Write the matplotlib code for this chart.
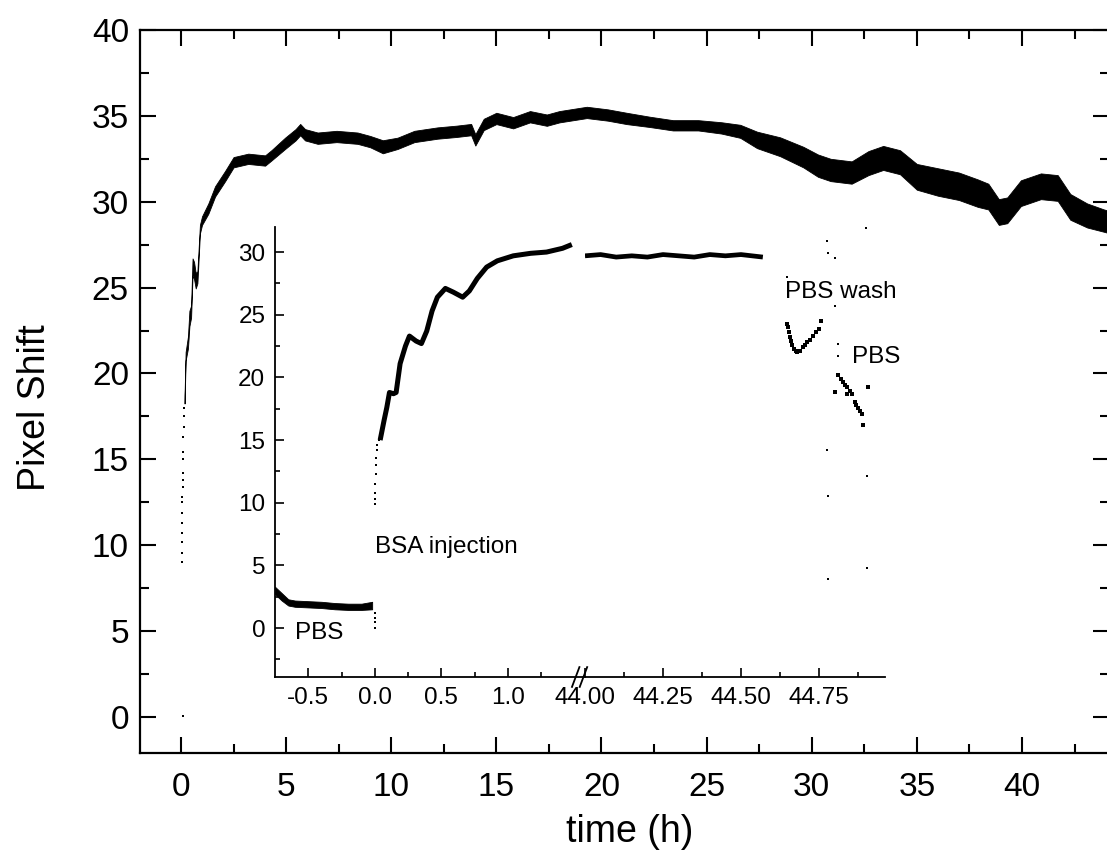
import matplotlib
matplotlib.use("Agg")
import matplotlib.pyplot as plt
from matplotlib.ticker import MultipleLocator, FixedLocator, FormatStrFormatter

plt.rcParams['font.family'] = ['Liberation Sans', 'DejaVu Sans']

# main trace: centre of the noisy band, and its half width (pixel shift)
main_t = [0.17, 0.22, 0.33, 0.40, 0.48, 0.55, 0.62, 0.70, 0.78, 0.90, 1.00, 1.30, 1.62,
          2.10, 2.50, 3.20, 4.00, 4.30, 4.95, 5.45, 5.67, 5.90, 6.50, 7.40, 8.40, 9.00,
          9.60, 10.30, 11.10, 12.20, 13.10, 13.80, 14.00, 14.40, 15.00, 15.80, 16.60,
          17.40, 18.00, 19.30, 20.30, 21.20, 22.30, 23.40, 24.60, 25.70, 26.60, 27.40,
          28.50, 29.60, 30.30, 30.90, 31.90, 32.70, 33.40, 34.20, 35.00, 36.00, 37.00,
          37.90, 38.40, 38.90, 39.30, 39.95, 40.90, 41.70, 42.30, 43.10, 43.90, 44.20]
main_y = [18.5, 21.0, 21.8, 23.2, 23.6, 26.2, 26.0, 25.4, 25.6, 28.4, 28.9, 29.6, 30.6,
          31.5, 32.3, 32.5, 32.4, 32.7, 33.4, 33.9, 34.2, 33.9, 33.7, 33.8, 33.7, 33.5,
          33.2, 33.4, 33.8, 34.0, 34.1, 34.2, 33.6, 34.5, 34.85, 34.6, 34.95,
          34.75, 34.95, 35.2, 35.05, 34.85, 34.65, 34.45, 34.45, 34.3, 34.1, 33.6,
          33.2, 32.6, 32.1, 31.85, 31.7, 32.25, 32.55, 32.3, 31.45, 31.15, 30.9,
          30.5, 30.3, 29.4, 29.5, 30.5, 30.9, 30.8, 29.7, 29.2, 28.9, 28.8]
main_w = [0.25, 0.25, 0.35, 0.45, 0.35, 0.5, 0.5, 0.45, 0.35, 0.25, 0.25, 0.3, 0.3,
          0.3, 0.3, 0.3, 0.3, 0.3, 0.33, 0.33, 0.33, 0.33, 0.33, 0.33, 0.33, 0.33,
          0.38, 0.33, 0.33, 0.33, 0.33, 0.33, 0.33, 0.33, 0.33, 0.33, 0.33,
          0.33, 0.33, 0.33, 0.33, 0.33, 0.3, 0.3, 0.3, 0.33, 0.38, 0.48,
          0.55, 0.6, 0.65, 0.65, 0.65, 0.7, 0.7, 0.7, 0.75, 0.8, 0.8,
          0.8, 0.75, 0.75, 0.75, 0.75, 0.75, 0.75, 0.75, 0.7, 0.65, 0.65]
# sparse points of the first minutes
rise_t = [0.10, 0.04, 0.04, 0.05, 0.05, 0.06, 0.06, 0.07, 0.07, 0.08, 0.08, 0.09,
          0.10, 0.10, 0.11, 0.12, 0.14, 0.15]
rise_y = [0.06, 9.0, 9.55, 10.2, 10.7, 11.3, 11.9, 12.5, 12.8, 13.4, 13.8, 14.2,
          15.0, 15.4, 16.3, 16.9, 17.5, 18.0]

# inset, first hours after injection
pbs_t = [-0.75, -0.70, -0.65, -0.60, -0.50, -0.40, -0.30, -0.20, -0.10, -0.02]
pbs_y = [3.0, 2.5, 2.05, 1.95, 1.9, 1.85, 1.75, 1.7, 1.7, 1.8]
pbs_w = [0.3, 0.3, 0.25, 0.25, 0.25, 0.25, 0.25, 0.25, 0.25, 0.3]
inj_t = [0.00, 0.00, 0.00, 0.00, 0.00, 0.00, 0.005, 0.005, 0.01, 0.01, 0.01, 0.02, 0.02, 0.03]
inj_y = [1.2, 0.8, 0.5, 0.0, 9.9, 10.3, 10.8, 11.5, 12.3, 13.0, 13.6, 14.2, 14.6, 15.0]
bsa_t = [0.04, 0.07, 0.09, 0.11, 0.14, 0.16, 0.19, 0.23, 0.26, 0.31, 0.35, 0.39, 0.43,
         0.47, 0.53, 0.59, 0.66, 0.71, 0.77, 0.84, 0.92, 1.04, 1.17, 1.29, 1.41, 1.48]
bsa_y = [15.0, 16.6, 17.6, 18.8, 18.7, 18.8, 21.1, 22.5, 23.3, 22.9, 22.7, 23.7, 25.3,
         26.4, 27.1, 26.8, 26.4, 26.9, 27.9, 28.8, 29.3, 29.7, 29.9, 30.0, 30.3, 30.6]
# inset, after 44 h
late_t = [44.00, 44.05, 44.10, 44.15, 44.20, 44.25, 44.30, 44.35, 44.40, 44.45, 44.50, 44.57]
late_y = [29.7, 29.8, 29.6, 29.7, 29.6, 29.8, 29.7, 29.6, 29.8, 29.7, 29.8, 29.6]
wash_t = [44.647, 44.651, 44.654, 44.657, 44.660, 44.665, 44.670, 44.675, 44.680, 44.690,
          44.700, 44.705, 44.710, 44.720, 44.730, 44.740, 44.750, 44.756,
          44.800, 44.810, 44.820, 44.827, 44.833, 44.840, 44.840, 44.850, 44.856,
          44.865, 44.870, 44.875, 44.882, 44.888, 44.890, 44.907]
wash_y = [24.3, 24.0, 23.6, 23.2, 22.9, 22.6, 22.3, 22.1, 22.0, 22.1,
          22.4, 22.6, 22.8, 23.0, 23.3, 23.6, 23.9, 24.5,
          18.8, 20.2, 19.9, 19.6, 19.4, 19.2, 18.7, 18.9, 18.7,
          18.0, 17.8, 17.6, 17.3, 17.1, 16.2, 19.2]
stray_t = [44.776, 44.780, 44.800, 44.647, 44.800, 44.900, 44.810, 44.810,
           44.776, 44.780, 44.904, 44.780, 44.904]
stray_y = [30.9, 29.9, 29.5, 28.0, 25.7, 31.9, 22.7, 21.7,
           14.2, 10.5, 12.1, 3.9, 4.8]

W, H = 1107, 859
fig = plt.figure(figsize=(W / 100, H / 100), dpi=100)

ax = fig.add_axes([140 / W, (H - 753) / H, 969 / W, 723 / H])
lo = [y - w for y, w in zip(main_y, main_w)]
hi = [y + w for y, w in zip(main_y, main_w)]
ax.fill_between(main_t, lo, hi, color='black', lw=0.6)
ax.plot(rise_t, rise_y, 's', color='black', ms=1.6, mew=0)
ax.set_xlim(-1.95, 44.14)
ax.set_ylim(-2.1, 40)
ax.xaxis.set_major_locator(MultipleLocator(5))
ax.xaxis.set_minor_locator(MultipleLocator(2.5))
ax.yaxis.set_major_locator(MultipleLocator(5))
ax.yaxis.set_minor_locator(MultipleLocator(2.5))
ax.tick_params(which='both', direction='in', top=True, right=True, width=1.5)
ax.tick_params(which='major', length=11.5, labelsize=24)
ax.tick_params(axis='x', which='major', pad=14)
ax.tick_params(axis='y', which='major', pad=8)
ax.tick_params(which='minor', length=6.5)
for s in ax.spines.values():
    s.set_linewidth(1.6)
ax.set_xlabel('time (h)', fontsize=27, va='center')
ax.xaxis.set_label_coords(0.5057, -0.109)
ax.set_ylabel('Pixel Shift', fontsize=27, va='center')
ax.yaxis.set_label_coords(-0.1086, 0.478)

# inset with broken time axis
bottom, height = (H - 677) / H, 450 / H
axl = fig.add_axes([275 / W, bottom, 310 / W, height], facecolor='none')
axr = fig.add_axes([585 / W, bottom, 300 / W, height], facecolor='none')

axl.fill_between(pbs_t, [y - w for y, w in zip(pbs_y, pbs_w)],
                 [y + w for y, w in zip(pbs_y, pbs_w)], color='black', lw=0.6)
axl.plot(inj_t, inj_y, 's', color='black', ms=1.8, mew=0)
axl.plot(bsa_t, bsa_y, '-', color='black', lw=3.6, solid_capstyle='butt')
axr.plot(late_t, late_y, '-', color='black', lw=3.4, solid_capstyle='butt')
axr.plot(wash_t, wash_y, 's', color='black', ms=2.3, mew=0)
axr.plot(stray_t, stray_y, 's', color='black', ms=1.8, mew=0)

for a in (axl, axr):
    a.set_ylim(-3.9, 32)
    a.spines['top'].set_visible(False)
    a.spines['right'].set_visible(False)
    a.spines['bottom'].set_linewidth(1.3)
    a.spines['left'].set_linewidth(1.3)
    a.tick_params(which='both', direction='in', width=1.2, labelsize=17.5)
    a.tick_params(which='major', length=6.7, pad=7)
    a.tick_params(which='minor', length=3.6)
axl.set_xlim(-0.75, 1.579)
axl.xaxis.set_major_locator(FixedLocator([-0.5, 0.0, 0.5, 1.0]))
axl.xaxis.set_minor_locator(FixedLocator([-0.25, 0.25, 0.75, 1.25]))
axl.xaxis.set_major_formatter(FormatStrFormatter('%.1f'))
axl.yaxis.set_major_locator(MultipleLocator(5))
axl.yaxis.set_minor_locator(MultipleLocator(2.5))
axr.set_xlim(44.0, 44.9615)
axr.xaxis.set_major_locator(MultipleLocator(0.25))
axr.xaxis.set_minor_locator(MultipleLocator(0.125))
axr.xaxis.set_major_formatter(FormatStrFormatter('%.2f'))
axr.spines['left'].set_visible(False)
axr.tick_params(axis='y', which='both', left=False, labelleft=False)

# break marks on the inset time axis
for off in (-0.03, -0.005):
    axl.plot([1 + off - 0.012, 1 + off + 0.012], [-0.022, 0.022], transform=axl.transAxes,
             color='black', lw=1.3, clip_on=False)

axl.text(-0.60, -0.4, 'PBS', fontsize=17.5, ha='left', va='center')
axl.text(0.0, 6.5, 'BSA injection', fontsize=17.5, ha='left', va='center')
axr.text(44.641, 26.8, 'PBS wash', fontsize=17.5, ha='left', va='center')
axr.text(44.856, 21.6, 'PBS', fontsize=17.5, ha='left', va='center')

fig.savefig('out.png', dpi=100)
